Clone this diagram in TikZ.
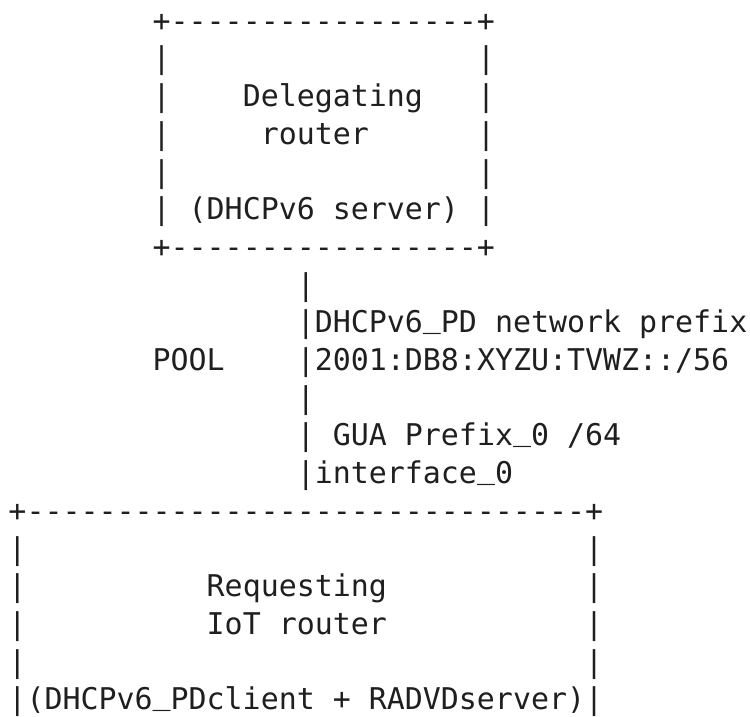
\documentclass[tikz,border=0pt]{standalone}
\usepackage{fontspec}
\newfontfamily\asciimono{DejaVu Sans Mono}[Ligatures=TeXOff]
\tikzset{
  ascii/.style={inner sep=0pt, outer sep=0pt, anchor=base west,
    font=\asciimono\fontsize{29.93pt}{36pt}\selectfont, text=black!88},
}
% underscore sitting on the baseline, as in the reference font
\newcommand\usc{\raisebox{5.5pt}{\_}}
% column / row placement
\newcommand\asc[4]{\node[ascii] (#1) at ({8.5+#2*18.02},{-(31.2+#3*37.7)}) {#4};}
\begin{document}
\begin{tikzpicture}[x=1pt,y=1pt]
\fill[white] (0,0) rectangle (750,-716);
\useasboundingbox (0,0) rectangle (750,-716);
% Delegating router box
\asc{dtop}{8}{0}{+-----------------+}
\asc{dl1}{8}{1}{|}\asc{dr1}{26}{1}{|}
\asc{dl2}{8}{2}{|}\asc{dname}{13}{2}{Delegating}\asc{dr2}{26}{2}{|}
\asc{dl3}{8}{3}{|}\asc{dname2}{14}{3}{router}\asc{dr3}{26}{3}{|}
\asc{dl4}{8}{4}{|}\asc{dr4}{26}{4}{|}
\asc{dl5}{8}{5}{|}\asc{drole}{10}{5}{(DHCPv6 server)}\asc{dr5}{26}{5}{|}
\asc{dbot}{8}{6}{+-----------------+}
% link
\asc{link7}{16}{7}{|}
\asc{link8}{16}{8}{|DHCPv6\usc PD network prefix}
\asc{pool}{8}{9}{POOL}
\asc{link9}{16}{9}{|2001:DB8:XYZU:TVWZ::/56}
\asc{link10}{16}{10}{|}
\asc{link11}{16}{11}{|}\asc{gua}{18}{11}{GUA Prefix\usc 0 /64}
\asc{link12}{16}{12}{|interface\usc 0}
% Requesting IoT router box
\asc{rtop}{0}{13}{+-------------------------------+}
\asc{rl1}{0}{14}{|}\asc{rr1}{32}{14}{|}
\asc{rl2}{0}{15}{|}\asc{rname}{11}{15}{Requesting}\asc{rr2}{32}{15}{|}
\asc{rl3}{0}{16}{|}\asc{rname2}{11}{16}{IoT router}\asc{rr3}{32}{16}{|}
\asc{rl4}{0}{17}{|}\asc{rr4}{32}{17}{|}
\asc{rrole}{0}{18}{|(DHCPv6\usc PDclient + RADVDserver)|}
\end{tikzpicture}
\end{document}
